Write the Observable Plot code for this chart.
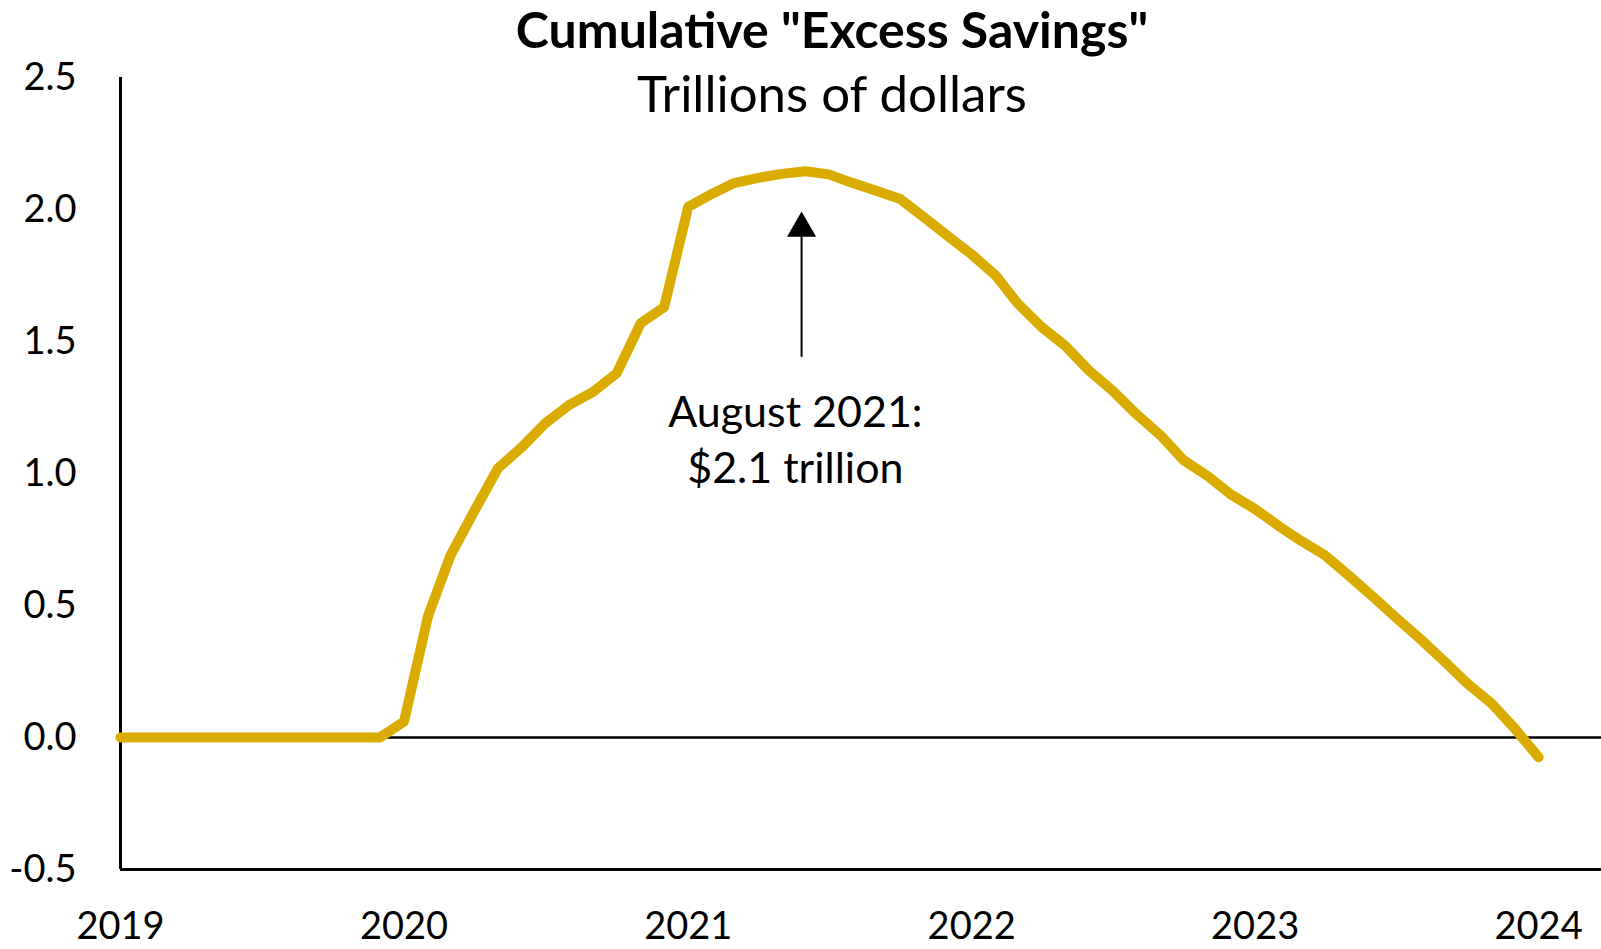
<!DOCTYPE html>
<html>
<head>
<meta charset="utf-8">
<script src="https://cdn.jsdelivr.net/npm/d3@7"></script>
<script src="https://cdn.jsdelivr.net/npm/@observablehq/plot@0.6"></script>
<style>
  html, body { margin: 0; padding: 0; background: #fff; }
  #chart svg { display: block; }
</style>
</head>
<body>
<div id="chart"></div>
<script>
// ---- Data (trillions of dollars, monthly from Jan 2019 to Jan 2024) ----
const firstMonth = "2019-01";
const savings2019 = [0, 0, 0, 0, 0, 0, 0, 0, 0, 0, 0, 0];
const savings2020 = [0.06, 0.46, 0.69, 0.86, 1.02, 1.10, 1.19, 1.26, 1.31, 1.38, 1.57, 1.63];
const savings2021 = [2.01, 2.06, 2.10, 2.12, 2.135, 2.145, 2.133, 2.10, 2.07, 2.04, 1.97, 1.90];
const savings2022 = [1.83, 1.75, 1.645, 1.555, 1.485, 1.39, 1.315, 1.225, 1.145, 1.05, 0.99, 0.92];
const savings2023 = [0.865, 0.80, 0.745, 0.69, 0.615, 0.535, 0.455, 0.375, 0.29, 0.205, 0.13, 0.035];
const savings2024 = [-0.075];

const yTicks = [-0.5, 0, 0.5, 1.0, 1.5, 2.0, 2.5];
const yearTicks = [2019, 2020, 2021, 2022, 2023, 2024];

const titleText = 'Cumulative "Excess Savings"';
const subtitleText = "Trillions of dollars";
const noteText = "August 2021:\n$2.1 trillion";

// ---- Build table ----
const values = [...savings2019, ...savings2020, ...savings2021, ...savings2022, ...savings2023, ...savings2024];
const start = d3.utcParse("%Y-%m")(firstMonth);
const data = values.map((v, i) => ({ date: d3.utcMonth.offset(start, i), value: v }));

const xDomain = [start, new Date(Date.UTC(2024, 2, 22))];
const gold = "#DAAC00";
const font = "Lato, 'Open Sans', sans-serif";

// annotation anchor (peak arrow)
const arrowDate = new Date(Date.UTC(2021, 4, 27));
const noteDate = new Date(Date.UTC(2021, 4, 19));

const chart = Plot.plot({
  width: 1601,
  height: 949,
  marginLeft: 120,
  marginRight: 0,
  marginTop: 77,
  marginBottom: 80,
  style: { fontFamily: font, fontSize: "38px", color: "#000", background: "#fff", overflow: "visible" },
  x: { type: "utc", domain: xDomain },
  y: { domain: [-0.5, 2.5] },
  marks: [
    Plot.axisY(yTicks, { tickSize: 0, tickPadding: 44, tickFormat: d => d.toFixed(1), label: null, fontSize: 38 }),
    Plot.axisX(yearTicks.map(y => new Date(Date.UTC(y, 0, 1))), {
      tickSize: 0, tickPadding: 43, tickFormat: d => String(d.getUTCFullYear()), label: null, fontSize: 38
    }),
    Plot.ruleX([xDomain[0]], { stroke: "#000", strokeWidth: 3 }),
    Plot.ruleY([-0.5], { stroke: "#000", strokeWidth: 3 }),
    Plot.ruleY([0], { stroke: "#000", strokeWidth: 2.5 }),
    Plot.line(data, {
      x: "date", y: "value", stroke: gold, strokeWidth: 10,
      strokeLinejoin: "round", strokeLinecap: "round"
    }),
    // arrow shaft and head
    Plot.ruleX([arrowDate], { y1: 1.44, y2: 1.90, stroke: "#000", strokeWidth: 2 }),
    Plot.dot([arrowDate], { x: d => d, y: 1.929, symbol: "triangle", r: 10.8, fill: "#000", stroke: null }),
    // annotation text
    Plot.text([noteText], {
      x: noteDate, y: 1.137, text: d => d, fontSize: 43, lineHeight: 1.3,
      textAnchor: "middle", lineAnchor: "middle", fill: "#000"
    }),
    // title & subtitle
    Plot.text([titleText], {
      frameAnchor: "top", dx: -29, dy: -46, text: d => d, fontSize: 50, fontWeight: "bold",
      lineAnchor: "middle", fill: "#000"
    }),
    Plot.text([subtitleText], {
      frameAnchor: "top", dx: -29, dy: 18, text: d => d, fontSize: 51,
      lineAnchor: "middle", fill: "#000"
    })
  ]
});

document.getElementById("chart").appendChild(chart);
</script>
</body>
</html>
